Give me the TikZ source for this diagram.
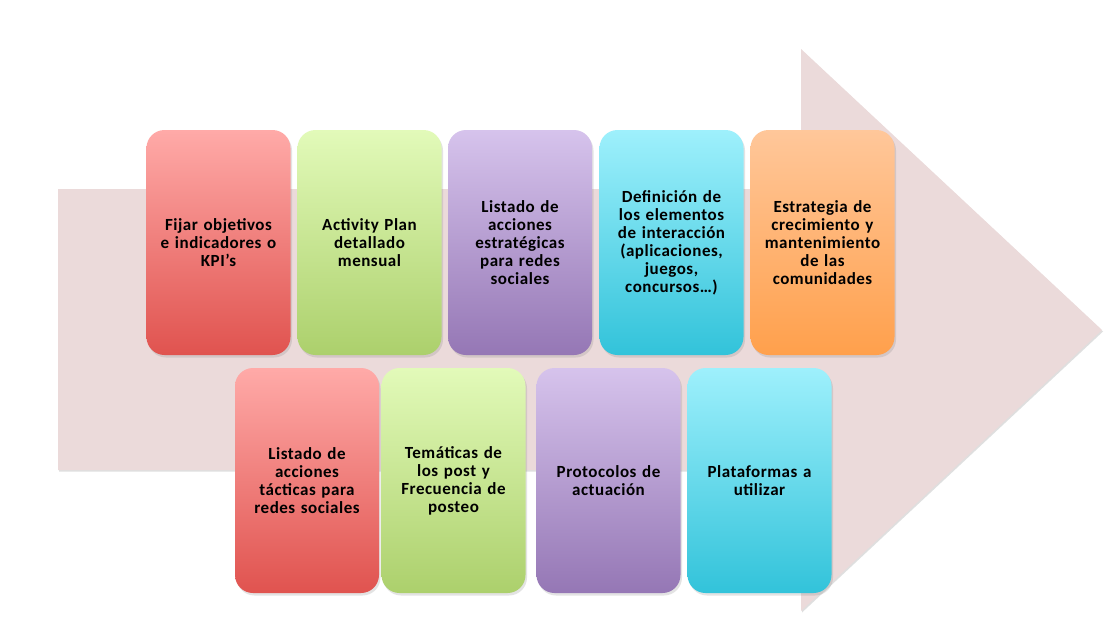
\documentclass[tikz,border=0pt]{standalone}
\usepackage{fontspec}
\setmainfont{Carlito}[LetterSpace=3]
\usetikzlibrary{shadows}
\definecolor{arrowfill}{HTML}{EBDADA}
\definecolor{redT}{HTML}{FFAAA8}\definecolor{redB}{HTML}{E0534F}
\definecolor{grnT}{HTML}{E2FAB9}\definecolor{grnB}{HTML}{ACD06C}
\definecolor{purT}{HTML}{D6C3EC}\definecolor{purB}{HTML}{9577B5}
\definecolor{cyaT}{HTML}{9EF0FC}\definecolor{cyaB}{HTML}{32C3DA}
\definecolor{oraT}{HTML}{FFC79A}\definecolor{oraB}{HTML}{FFA04C}
\tikzset{
  card/.style={rectangle, rounded corners=18pt, minimum width=144pt, minimum height=225pt,
    inner sep=0pt, align=center, text width=142pt,
    font=\bfseries\fontsize{17pt}{18pt}\selectfont,
    drop shadow={opacity=0.22, shadow xshift=1.5pt, shadow yshift=-2.5pt}},
  redcard/.style={card, top color=redT, bottom color=redB},
  grncard/.style={card, top color=grnT, bottom color=grnB},
  purcard/.style={card, top color=purT, bottom color=purB},
  cyacard/.style={card, top color=cyaT, bottom color=cyaB},
  oracard/.style={card, top color=oraT, bottom color=oraB},
  bigarrow/.style={fill=arrowfill, drop shadow={opacity=0.25, shadow xshift=1pt, shadow yshift=-1.5pt}}
}
\begin{document}
\begin{tikzpicture}[x=1pt, y=-1pt]
\useasboundingbox (0,0) rectangle (1109,630);
\fill[white] (0,0) rectangle (1109,630);
% big arrow
\path[bigarrow] (58,189) -- (801,189) -- (801,49) -- (1102,330) -- (801,611) -- (801,470) -- (58,470) -- cycle;
% top row
\node[redcard] (t1) at (218.5,242.5) {Fijar objetivos\\e indicadores o\\KPI’s};
\node[grncard] (t2) at (369.5,242.5) {Activity Plan\\detallado\\mensual};
\node[purcard] (t3) at (520,242.5) {Listado de\\acciones\\estratégicas\\para redes\\sociales};
\node[cyacard] (t4) at (671.5,242.5) {Definición de\\los elementos\\de interacción\\(aplicaciones,\\juegos,\\concursos…)};
\node[oracard] (t5) at (822.5,242.5) {Estrategia de\\crecimiento y\\mantenimiento\\de las\\comunidades};
% bottom row
\node[redcard] (b1) at (307,480.5) {Listado de\\acciones\\tácticas para\\redes sociales};
\node[grncard] (b2) at (453.5,480.5) {Temáticas de\\los post y\\Frecuencia de\\posteo};
\node[purcard] (b3) at (608.5,480.5) {Protocolos de\\actuación};
\node[cyacard] (b4) at (759.5,480.5) {Plataformas a\\utilizar};
\end{tikzpicture}
\end{document}
